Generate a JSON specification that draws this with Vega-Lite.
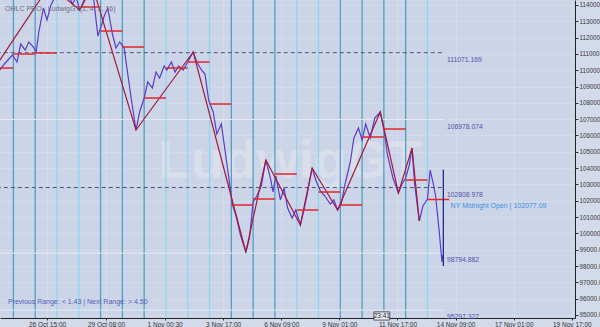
{
"$schema": "https://vega.github.io/schema/vega-lite/v6.json",
"width": 575, "height": 318,
"autosize": {"type": "none"},
"padding": {"left": 0, "top": 0, "right": 25, "bottom": 9},
"background": "#d3dbeb",
"config": {"view": {"fill": "#ccd5e8", "stroke": null}, "font": "Liberation Sans"},
"datasets": {
"price": [
{"t":"2025-10-24T11:00:00Z","v":110011},{"t":"2025-10-24T16:00:00Z","v":110379},{"t":"2025-10-24T20:00:00Z","v":110624},{"t":"2025-10-25T01:00:00Z","v":110930},{"t":"2025-10-25T06:00:00Z","v":110501},{"t":"2025-10-25T10:00:00Z","v":111604},{"t":"2025-10-25T15:00:00Z","v":111237},{"t":"2025-10-25T19:00:00Z","v":111727},{"t":"2025-10-26T00:00:00Z","v":111420},{"t":"2025-10-26T03:00:00Z","v":111114},{"t":"2025-10-26T06:00:00Z","v":112339},{"t":"2025-10-26T11:00:00Z","v":113810},{"t":"2025-10-26T15:00:00Z","v":113075},{"t":"2025-10-26T19:00:00Z","v":113932},{"t":"2025-10-27T00:00:00Z","v":114545},{"t":"2025-10-27T04:00:00Z","v":115035},{"t":"2025-10-27T10:00:00Z","v":115403},{"t":"2025-10-27T14:00:00Z","v":114668},{"t":"2025-10-27T19:00:00Z","v":114055},{"t":"2025-10-27T23:00:00Z","v":114484},{"t":"2025-10-28T03:00:00Z","v":113687},{"t":"2025-10-28T08:00:00Z","v":114300},{"t":"2025-10-28T12:00:00Z","v":114606},{"t":"2025-10-28T17:00:00Z","v":115158},{"t":"2025-10-28T20:00:00Z","v":113565},{"t":"2025-10-28T23:00:00Z","v":112094},{"t":"2025-10-29T02:00:00Z","v":112584},{"t":"2025-10-29T06:00:00Z","v":113320},{"t":"2025-10-29T10:00:00Z","v":113810},{"t":"2025-10-29T15:00:00Z","v":112217},{"t":"2025-10-29T19:00:00Z","v":111359},{"t":"2025-10-29T23:00:00Z","v":111727},{"t":"2025-10-30T04:00:00Z","v":111359},{"t":"2025-10-30T07:00:00Z","v":110134},{"t":"2025-10-30T12:00:00Z","v":108173},{"t":"2025-10-30T17:00:00Z","v":106335},{"t":"2025-10-30T21:00:00Z","v":107438},{"t":"2025-10-31T02:00:00Z","v":108296},{"t":"2025-10-31T06:00:00Z","v":109276},{"t":"2025-10-31T11:00:00Z","v":108908},{"t":"2025-10-31T15:00:00Z","v":109889},{"t":"2025-10-31T19:00:00Z","v":109521},{"t":"2025-11-01T00:00:00Z","v":110256},{"t":"2025-11-01T03:00:00Z","v":110011},{"t":"2025-11-01T08:00:00Z","v":110501},{"t":"2025-11-01T12:00:00Z","v":109889},{"t":"2025-11-01T16:00:00Z","v":110256},{"t":"2025-11-01T21:00:00Z","v":110011},{"t":"2025-11-02T02:00:00Z","v":110501},{"t":"2025-11-02T08:00:00Z","v":111114},{"t":"2025-11-02T12:00:00Z","v":110501},{"t":"2025-11-02T17:00:00Z","v":110011},{"t":"2025-11-02T21:00:00Z","v":109766},{"t":"2025-11-03T01:00:00Z","v":108173},{"t":"2025-11-03T06:00:00Z","v":107438},{"t":"2025-11-03T10:00:00Z","v":106090},{"t":"2025-11-03T15:00:00Z","v":106703},{"t":"2025-11-03T19:00:00Z","v":105110},{"t":"2025-11-03T23:00:00Z","v":103517},{"t":"2025-11-04T03:00:00Z","v":101801},{"t":"2025-11-04T07:00:00Z","v":101127},{"t":"2025-11-04T12:00:00Z","v":99902},{"t":"2025-11-04T18:00:00Z","v":98860},{"t":"2025-11-04T22:00:00Z","v":99718},{"t":"2025-11-05T02:00:00Z","v":101924},{"t":"2025-11-05T06:00:00Z","v":102291},{"t":"2025-11-05T11:00:00Z","v":102904},{"t":"2025-11-05T16:00:00Z","v":104497},{"t":"2025-11-05T21:00:00Z","v":103394},{"t":"2025-11-06T00:00:00Z","v":102536},{"t":"2025-11-06T03:00:00Z","v":103517},{"t":"2025-11-06T08:00:00Z","v":102046},{"t":"2025-11-06T12:00:00Z","v":102781},{"t":"2025-11-06T16:00:00Z","v":101556},{"t":"2025-11-06T21:00:00Z","v":100943},{"t":"2025-11-07T01:00:00Z","v":101433},{"t":"2025-11-07T06:00:00Z","v":100514},{"t":"2025-11-07T10:00:00Z","v":101433},{"t":"2025-11-07T14:00:00Z","v":102536},{"t":"2025-11-07T19:00:00Z","v":104007},{"t":"2025-11-07T23:00:00Z","v":103271},{"t":"2025-11-08T04:00:00Z","v":102597},{"t":"2025-11-08T09:00:00Z","v":102291},{"t":"2025-11-08T15:00:00Z","v":101801},{"t":"2025-11-08T19:00:00Z","v":102046},{"t":"2025-11-08T23:00:00Z","v":101433},{"t":"2025-11-09T03:00:00Z","v":101801},{"t":"2025-11-09T07:00:00Z","v":102965},{"t":"2025-11-09T13:00:00Z","v":104374},{"t":"2025-11-09T17:00:00Z","v":105845},{"t":"2025-11-09T22:00:00Z","v":106457},{"t":"2025-11-10T02:00:00Z","v":105722},{"t":"2025-11-10T06:00:00Z","v":106702},{"t":"2025-11-10T11:00:00Z","v":105845},{"t":"2025-11-10T16:00:00Z","v":107070},{"t":"2025-11-10T22:00:00Z","v":107438},{"t":"2025-11-11T02:00:00Z","v":106396},{"t":"2025-11-11T06:00:00Z","v":104803},{"t":"2025-11-11T12:00:00Z","v":103394},{"t":"2025-11-11T18:00:00Z","v":102475},{"t":"2025-11-11T22:00:00Z","v":103026},{"t":"2025-11-12T02:00:00Z","v":103394},{"t":"2025-11-12T06:00:00Z","v":104191},{"t":"2025-11-12T09:00:00Z","v":105232},{"t":"2025-11-12T12:00:00Z","v":102965},{"t":"2025-11-12T17:00:00Z","v":100759},{"t":"2025-11-12T21:00:00Z","v":101678},{"t":"2025-11-13T02:00:00Z","v":102107},{"t":"2025-11-13T05:00:00Z","v":103884},{"t":"2025-11-13T08:00:00Z","v":103149},{"t":"2025-11-13T11:00:00Z","v":102291},{"t":"2025-11-13T15:00:00Z","v":100085},{"t":"2025-11-13T18:00:00Z","v":98247},{"t":"2025-11-13T19:00:00Z","v":98676}
],
"zig": [
{"t":"2025-10-23T19:00:00Z","v":109276},{"t":"2025-10-26T18:00:00Z","v":115219},{"t":"2025-10-28T03:00:00Z","v":113687},{"t":"2025-10-28T17:00:00Z","v":115158},{"t":"2025-10-30T17:00:00Z","v":106335},{"t":"2025-11-02T08:00:00Z","v":111114},{"t":"2025-11-04T18:00:00Z","v":98860},{"t":"2025-11-05T16:00:00Z","v":104497},{"t":"2025-11-07T06:00:00Z","v":100514},{"t":"2025-11-07T19:00:00Z","v":104007},{"t":"2025-11-08T23:00:00Z","v":101433},{"t":"2025-11-10T22:00:00Z","v":107438},{"t":"2025-11-11T18:00:00Z","v":102475},{"t":"2025-11-12T09:00:00Z","v":105232},{"t":"2025-11-12T17:00:00Z","v":100759}
],
"opens": [
{"t":"2025-10-24T02:00:00Z","t2":"2025-10-25T02:00:00Z","v":110133},{"t":"2025-10-25T02:00:00Z","t2":"2025-10-26T02:00:00Z","v":110992},{"t":"2025-10-26T02:00:00Z","t2":"2025-10-27T02:00:00Z","v":111053},{"t":"2025-10-27T02:00:00Z","t2":"2025-10-28T02:00:00Z","v":114800},{"t":"2025-10-28T02:00:00Z","t2":"2025-10-29T02:00:00Z","v":113871},{"t":"2025-10-29T02:00:00Z","t2":"2025-10-30T02:00:00Z","v":112401},{"t":"2025-10-30T02:00:00Z","t2":"2025-10-31T02:00:00Z","v":111420},{"t":"2025-10-31T02:00:00Z","t2":"2025-11-01T02:00:00Z","v":108296},{"t":"2025-11-01T02:00:00Z","t2":"2025-11-02T02:00:00Z","v":110133},{"t":"2025-11-02T02:00:00Z","t2":"2025-11-03T02:00:00Z","v":110501},{"t":"2025-11-03T02:00:00Z","t2":"2025-11-04T02:00:00Z","v":107928},{"t":"2025-11-04T02:00:00Z","t2":"2025-11-05T02:00:00Z","v":101740},{"t":"2025-11-05T02:00:00Z","t2":"2025-11-06T02:00:00Z","v":102107},{"t":"2025-11-06T02:00:00Z","t2":"2025-11-07T02:00:00Z","v":103639},{"t":"2025-11-07T02:00:00Z","t2":"2025-11-08T02:00:00Z","v":101433},{"t":"2025-11-08T02:00:00Z","t2":"2025-11-09T02:00:00Z","v":102536},{"t":"2025-11-09T02:00:00Z","t2":"2025-11-10T02:00:00Z","v":101740},{"t":"2025-11-10T02:00:00Z","t2":"2025-11-11T02:00:00Z","v":105906},{"t":"2025-11-11T02:00:00Z","t2":"2025-11-12T02:00:00Z","v":106396},{"t":"2025-11-12T02:00:00Z","t2":"2025-11-13T02:00:00Z","v":103271},{"t":"2025-11-13T02:00:00Z","t2":"2025-11-14T02:00:00Z","v":102077.09}
],
"days": [
{"t":"2025-10-25T02:00:00Z","kind":"a"},{"t":"2025-10-26T02:00:00Z","kind":"a"},{"t":"2025-10-27T02:00:00Z","kind":"b"},{"t":"2025-10-28T02:00:00Z","kind":"b"},{"t":"2025-10-29T02:00:00Z","kind":"a"},{"t":"2025-10-30T02:00:00Z","kind":"a"},{"t":"2025-10-31T02:00:00Z","kind":"a"},{"t":"2025-11-01T02:00:00Z","kind":"b"},{"t":"2025-11-02T02:00:00Z","kind":"b"},{"t":"2025-11-03T02:00:00Z","kind":"b"},{"t":"2025-11-04T02:00:00Z","kind":"a"},{"t":"2025-11-05T02:00:00Z","kind":"a"},{"t":"2025-11-06T02:00:00Z","kind":"a"},{"t":"2025-11-07T02:00:00Z","kind":"b"},{"t":"2025-11-08T02:00:00Z","kind":"b"},{"t":"2025-11-09T02:00:00Z","kind":"a"},{"t":"2025-11-10T02:00:00Z","kind":"a"},{"t":"2025-11-11T02:00:00Z","kind":"a"},{"t":"2025-11-12T02:00:00Z","kind":"a"},{"t":"2025-11-13T02:00:00Z","kind":"b"}
],
"levels": [
{"t":"2025-10-24T00:00:00Z","t2":"2025-11-13T19:00:00Z","v":111071.169,"kind":"major","label":"111071.169"},
{"t":"2025-10-24T00:00:00Z","t2":"2025-11-13T19:00:00Z","v":106978.074,"kind":"minor","label":"106978.074"},
{"t":"2025-10-24T00:00:00Z","t2":"2025-11-13T19:00:00Z","v":102808.978,"kind":"major","label":"102808.978"},
{"t":"2025-10-24T00:00:00Z","t2":"2025-11-13T19:00:00Z","v":98794.882,"kind":"minor","label":"98794.882"},
{"t":"2025-10-24T00:00:00Z","t2":"2025-11-13T19:00:00Z","v":95297.327,"kind":"minor","label":"95297.327"}
],
"ny": [{"t":"2025-11-14T03:30:00Z","v":102077.09,"label":"NY Midnight Open | 102077.09"}],
"cur": [{"t":"2025-11-13T19:30:00Z","v":103900,"v2":98000}],
"header": [{"t":"2025-10-24T16:45:00Z","v":113749,"label":"OHLC PRO - LudwigGT(1, 4, 3, 16)"}],
"range": [{"t":"2025-10-24T20:00:00Z","v":95797,"label":"Previous Range: < 1.43   |   Next Range: > 4.50"}],
"wm": [{"t":"2025-11-06T18:30:00Z","v":104374,"label":"LudwigGT"}],
"clock": [{"t":"2025-11-10T15:00:00Z","t2":"2025-11-11T08:30:00Z","v":95190,"v2":94690,"tm":"2025-11-10T23:45:00Z","vm":94940,"label":"23:41"}]
},
"encoding": {
"x": {"field": "t", "type": "temporal",
 "scale": {"type": "utc", "nice": false, "domain": [{"year":2025,"month":10,"date":24,"hours":11,"minutes":14,"utc":true},{"year":2025,"month":11,"date":19,"hours":20,"minutes":30,"utc":true}]},
 "axis": {"title": null, "format": "%-d %b %H:%M", "labelFontSize": 6.5, "labelColor": "#333333", "tickSize": 2, "tickColor": "#333333", "labelPadding": 1, "domainColor": "#222222", "grid": true, "gridColor": "#e6eaf3", "gridOpacity": 0.35, "labelOverlap": false,
  "values": [{"year":2025,"month":10,"date":26,"hours":15,"utc":true},{"year":2025,"month":10,"date":29,"hours":8,"utc":true},{"year":2025,"month":11,"date":1,"hours":0,"minutes":30,"utc":true},{"year":2025,"month":11,"date":3,"hours":17,"utc":true},{"year":2025,"month":11,"date":6,"hours":9,"utc":true},{"year":2025,"month":11,"date":9,"hours":1,"utc":true},{"year":2025,"month":11,"date":11,"hours":17,"utc":true},{"year":2025,"month":11,"date":14,"hours":9,"utc":true},{"year":2025,"month":11,"date":17,"hours":1,"utc":true},{"year":2025,"month":11,"date":19,"hours":17,"utc":true}]}},
"y": {"field": "v", "type": "quantitative",
 "scale": {"domain": [94816, 114301], "nice": false, "zero": false},
 "axis": {"title": null, "orient": "right", "format": ".2f", "labelFontSize": 6.3, "labelColor": "#3a3a3a", "tickSize": 3, "tickColor": "#333333", "labelPadding": 1, "domainColor": "#222222", "grid": true, "gridColor": "#e6eaf3", "gridOpacity": 0.25, "labelOverlap": false,
  "values": [95000,96000,97000,98000,99000,100000,101000,102000,103000,104000,105000,106000,107000,108000,109000,110000,111000,112000,113000,114000]}}
},
"layer": [
{"data": {"name": "wm"}, "mark": {"type": "text", "fontSize": 54, "fontWeight": "bold", "align": "center", "baseline": "middle", "color": "#dfe3ec", "opacity": 0.7}, "encoding": {"text": {"field": "label"}}},
{"data": {"name": "days"}, "transform": [{"filter": "datum.kind === 'a'"}], "mark": {"type": "rule", "strokeWidth": 1.3, "color": "#4f9fc3"}, "encoding": {"y": {"value": 0}, "y2": {"value": 318}}},
{"data": {"name": "days"}, "transform": [{"filter": "datum.kind === 'b'"}], "mark": {"type": "rule", "strokeWidth": 1.3, "color": "#8ed5f0"}, "encoding": {"y": {"value": 0}, "y2": {"value": 318}}},
{"data": {"name": "levels"}, "transform": [{"filter": "datum.kind === 'minor'"}], "mark": {"type": "rule", "strokeWidth": 1, "clip": true, "color": "#e6eaf6"}, "encoding": {"x2": {"field": "t2"}}},
{"data": {"name": "levels"}, "transform": [{"filter": "datum.kind === 'major'"}], "mark": {"type": "rule", "strokeWidth": 1, "clip": true, "color": "#4a5478", "strokeDash": [4, 3]}, "encoding": {"x2": {"field": "t2"}}},
{"data": {"name": "price"}, "mark": {"type": "line", "clip": true, "color": "#5a3cc8", "strokeWidth": 1.2}},
{"data": {"name": "zig"}, "mark": {"type": "line", "clip": true, "color": "#a3193a", "strokeWidth": 1.2}},
{"data": {"name": "opens"}, "mark": {"type": "rule", "clip": true, "color": "#e3262e", "strokeWidth": 1.5}, "encoding": {"x2": {"field": "t2"}}},
{"data": {"name": "cur"}, "mark": {"type": "rule", "color": "#1e2a8c", "strokeWidth": 1.3}, "encoding": {"y2": {"field": "v2"}}},
{"data": {"name": "levels"}, "mark": {"type": "text", "align": "left", "baseline": "middle", "dx": 4, "dy": 7, "fontSize": 6.8, "color": "#5550aa"}, "encoding": {"x": {"field": "t2", "type": "temporal"}, "text": {"field": "label"}}},
{"data": {"name": "ny"}, "mark": {"type": "text", "align": "left", "baseline": "middle", "dy": 7, "fontSize": 7, "color": "#3d8fe0"}, "encoding": {"text": {"field": "label"}}},
{"data": {"name": "header"}, "mark": {"type": "text", "align": "left", "baseline": "middle", "fontSize": 7, "color": "#6e6e80"}, "encoding": {"text": {"field": "label"}}},
{"data": {"name": "range"}, "mark": {"type": "text", "align": "left", "baseline": "middle", "fontSize": 7, "color": "#5060b8"}, "encoding": {"text": {"field": "label"}}},
{"data": {"name": "clock"}, "mark": {"type": "rect", "fill": "#e9edf5", "stroke": "#333333", "strokeWidth": 0.8}, "encoding": {"x2": {"field": "t2"}, "y2": {"field": "v2"}}},
{"data": {"name": "clock"}, "mark": {"type": "text", "align": "center", "baseline": "middle", "fontSize": 6.5, "color": "#222222"}, "encoding": {"x": {"field": "tm", "type": "temporal"}, "y": {"field": "vm", "type": "quantitative"}, "text": {"field": "label"}}}
]
}
